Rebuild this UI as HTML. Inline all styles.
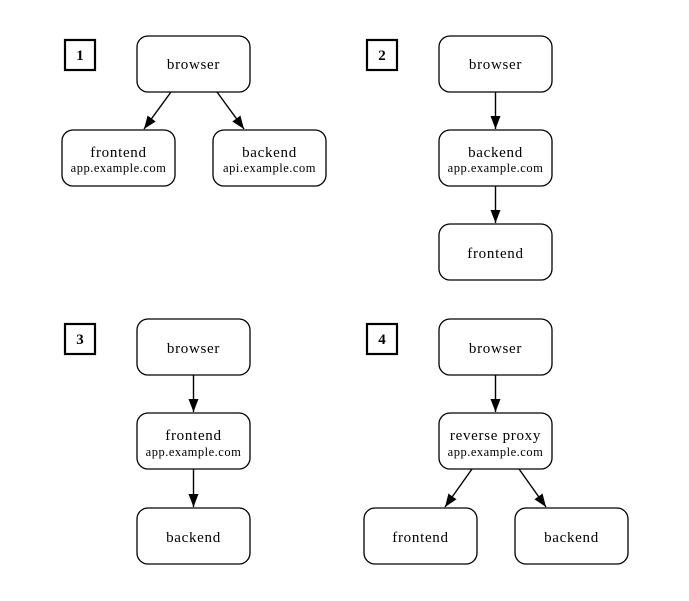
<!DOCTYPE html>
<html><head><style>body{margin:0;background:#fff}</style></head><body>
<svg width="689" height="596" viewBox="0 0 689 596" xmlns="http://www.w3.org/2000/svg" font-family="Liberation Serif, serif">
<defs><marker id="a" markerWidth="14" markerHeight="12" refX="13" refY="6" orient="auto" markerUnits="userSpaceOnUse"><path d="M0,1 L13,6 L0,11 z" fill="#000"/></marker></defs>
<g fill="none" stroke="#000" stroke-width="2.2">
<rect x="65" y="40" width="30" height="30"/><rect x="367" y="40" width="30" height="30"/>
<rect x="65" y="324" width="30" height="30"/><rect x="367" y="324" width="30" height="30"/>
</g>
<g font-weight="bold" font-size="15" text-anchor="middle">
<text x="80" y="60">1</text><text x="382" y="60">2</text><text x="80" y="344">3</text><text x="382" y="344">4</text>
</g>
<g fill="#fff" stroke="#000" stroke-width="1.3">
<rect x="137" y="36" width="113" height="56" rx="11"/>
<rect x="62" y="130" width="113" height="56" rx="11"/>
<rect x="213" y="130" width="113" height="56" rx="11"/>
<rect x="439" y="36" width="113" height="56" rx="11"/>
<rect x="439" y="130" width="113" height="56" rx="11"/>
<rect x="439" y="224" width="113" height="56" rx="11"/>
<rect x="137" y="319" width="113" height="56" rx="11"/>
<rect x="137" y="413" width="113" height="56" rx="11"/>
<rect x="137" y="508" width="113" height="56" rx="11"/>
<rect x="439" y="319" width="113" height="56" rx="11"/>
<rect x="439" y="413" width="113" height="56" rx="11"/>
<rect x="364" y="508" width="113" height="56" rx="11"/>
<rect x="515" y="508" width="113" height="56" rx="11"/>
</g>
<g stroke="#000" stroke-width="1.4" marker-end="url(#a)">
<line x1="171" y1="92" x2="144" y2="129"/><line x1="217" y1="92" x2="244" y2="129"/>
<line x1="495.5" y1="92" x2="495.5" y2="129"/><line x1="495.5" y1="186" x2="495.5" y2="223"/>
<line x1="193.5" y1="375" x2="193.5" y2="412"/><line x1="193.5" y1="469" x2="193.5" y2="507"/>
<line x1="495.5" y1="375" x2="495.5" y2="412"/>
<line x1="472" y1="469" x2="445" y2="507"/><line x1="519" y1="469" x2="546" y2="507"/>
</g>
<g font-size="15" text-anchor="middle" letter-spacing="0.7">
<text x="193.5" y="69">browser</text>
<text x="118.5" y="157">frontend</text><text x="269.5" y="157">backend</text>
<text x="495.5" y="69">browser</text><text x="495.5" y="157">backend</text><text x="495.5" y="258">frontend</text>
<text x="193.5" y="353">browser</text><text x="193.5" y="440">frontend</text><text x="193.5" y="542">backend</text>
<text x="495.5" y="353">browser</text><text x="495.5" y="440">reverse proxy</text>
<text x="420.5" y="542">frontend</text><text x="571.5" y="542">backend</text>
</g>
<g font-size="12.5" text-anchor="middle" letter-spacing="0.5">
<text x="118.5" y="172">app.example.com</text><text x="269.5" y="172">api.example.com</text>
<text x="495.5" y="172">app.example.com</text><text x="193.5" y="456">app.example.com</text>
<text x="495.5" y="456">app.example.com</text>
</g>
</svg>
</body></html>
